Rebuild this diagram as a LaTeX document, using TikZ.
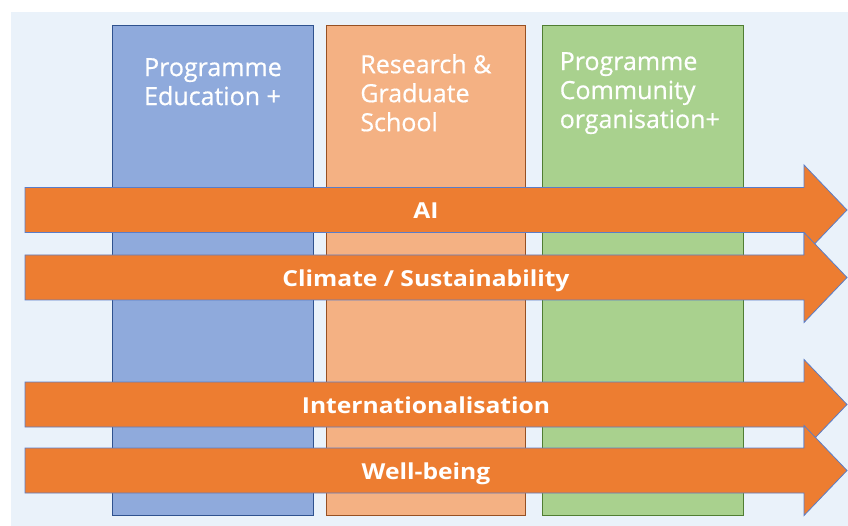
\documentclass[tikz,border=0pt]{standalone}
\usepackage{fontspec}
\setmainfont{Open Sans}
\newfontfamily\headfont{Open Sans}[FakeBold=0.6]
\newfontfamily\bandfont{Open Sans}[FakeStretch=1.12]
\usepackage{tikz}
\usetikzlibrary{positioning}
\definecolor{pagebg}{RGB}{234,242,250}
\definecolor{eduFill}{RGB}{143,170,220}
\definecolor{eduLine}{RGB}{47,82,143}
\definecolor{resFill}{RGB}{244,177,131}
\definecolor{resLine}{RGB}{150,80,35}
\definecolor{comFill}{RGB}{169,209,142}
\definecolor{comLine}{RGB}{80,126,50}
\definecolor{bandFill}{RGB}{237,125,49}
\definecolor{bandLine}{RGB}{90,125,200}
\tikzstyle{column} = [rectangle, draw, line width=0.9pt, inner sep=0pt,
    minimum width=201pt, minimum height=490pt]
\tikzstyle{heading} = [text=white, align=left, inner sep=0pt, anchor=north,
    font=\headfont\fontsize{25}{29}\selectfont]
\tikzstyle{band} = [fill=bandFill, draw=bandLine, line width=0.8pt]
\tikzstyle{bandlabel} = [text=white, anchor=base, inner sep=0pt,
    font=\bandfont\fontsize{22}{26}\selectfont\bfseries]

\begin{document}
\begin{tikzpicture}[x=1pt, y=-1pt]
  \useasboundingbox (0,0) rectangle (848,526);
  \fill[pagebg] (11,12) rectangle (848,526);
  % columns
  \node [column, fill=eduFill, draw=eduLine, anchor=north west] (edu) at (112,25) {};
  \node [column, fill=resFill, draw=resLine, minimum width=199pt, right=12pt of edu] (research) {};
  \node [column, fill=comFill, draw=comLine, right=16pt of research] (community) {};
  \node [heading, below=33pt of edu.north] (edutitle) {Programme\\Education +};
  \node [heading, below=29pt of research.north] (restitle) {Research \&\\Graduate\\School};
  \node [heading, below=27pt of community.north, xshift=-3pt] (comtitle) {Programme\\Community\\organisation+};
  % themes running across the columns
  \foreach \y/\txt/\n in {210/AI/ai, 277.5/{Climate / Sustainability}/climate,
      404.5/Internationalisation/intl, 470.5/Well-being/wellbeing} {
    \draw [band] (25,\y-22.5) -- (804,\y-22.5) -- (804,\y-45) -- (847,\y)
      -- (804,\y+45) -- (804,\y+22.5) -- (25,\y+22.5) -- cycle;
    \node [bandlabel] (\n) at (426,\y+9) {\txt};
  }
\end{tikzpicture}
\end{document}
